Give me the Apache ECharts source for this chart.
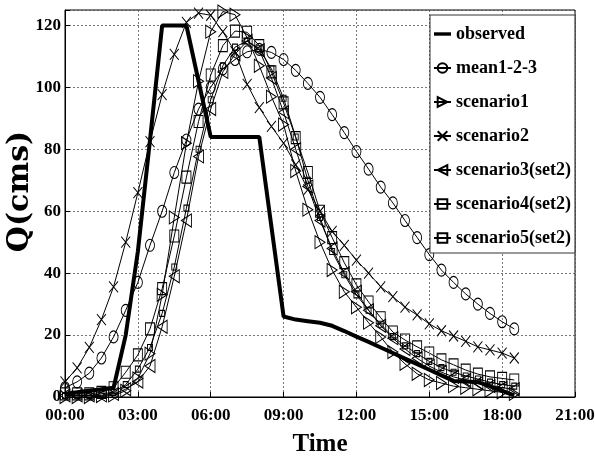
<!DOCTYPE html>
<html><head><meta charset="utf-8">
<script src="https://cdn.jsdelivr.net/npm/echarts@6/dist/echarts.min.js"></script>
<style>html,body{margin:0;padding:0;background:#fff}#c{width:595px;height:459px}</style>
</head><body><div id="c"></div>
<script>
// time in hours since start
var times = [0,0.5,1,1.5,2,2.5,3,3.5,4,4.5,5,5.5,6,6.5,7,7.5,8,8.5,9,9.5,10,10.5,11,11.5,12,12.5,13,13.5,14,14.5,15,15.5,16,16.5,17,17.5,18,18.5];
var observed = [1,1.5,2,2.5,3,20,47,83,120,120,120,102,84,84,84,84,84,55,26,25,24.5,24,23,21.3,19.5,17.8,16,14.2,12.4,10.6,8.8,7,5.2,5,4.8,3.5,2,0.5];
var mean123 = [3,4.9,7.7,12.6,19.4,28,37,49,60,72.5,83,93,100,106,109,111.5,112.3,111.3,109,105.5,101.3,96.8,91.2,85.4,79.3,73.6,67.8,62.7,57,51.5,46,41,37,33.3,30,27,24.3,22];
var scenario1 = [0,0,0,0.3,0.5,2,6,14,33,58,82,102,118,124.5,123.5,116,107,97,88,73,60.5,50,41,34,29,24,19.4,14.5,10.7,7.5,5.5,4.5,3.5,3,2.5,2,1.5,1];
var scenario2 = [4.9,9.4,16,25,35.6,50,66,82.5,97.7,110.7,121,124,123.3,118,111.5,101,93.5,87.4,82,75,67,60,53.5,49,44.2,40,35.6,32.4,29,26.5,23.6,21.4,19.7,18,16.2,15.2,14.2,12.6];
var scenario3 = [0.5,0.5,0.5,0.5,1,2.5,5,10,22.7,39,57,77.7,93,105,110.7,115,112,103,92,80,68,57,48,40,34,28,23,19,15.5,12.5,10,8,6.5,5.5,4.5,3.5,3,2.5];
var scenario4 = [1,1,1,1.5,3,8,13.6,22,35,52,71,89,104,113.5,118.2,117.8,113.5,105,95,83.8,72.5,60,51.5,43.4,36.2,30.7,25.6,21,18.4,16.2,14.2,12,10.4,8.7,7.4,6.5,6,5.5];
var scenario5 = [0.5,0.5,0.5,1,1.5,4,9,16,27,42,61,80,96,107,113,115,112.5,106,96.5,84,70,58,47,39.5,33,28,23.5,19.5,16.5,14,11.5,9.5,8,6.8,5.8,4.8,4,3.5];
var xTicks = [0,3,6,9,12,15,18,21];
var yTicks = [0,20,40,60,80,100,120];

function pairs(arr){ return times.map(function(t,i){ return [t, arr[i]]; }); }
var FONT = 'Liberation Serif';
var triR = 'path://M0,0L10,5L0,10Z';
var triL = 'path://M10,0L0,5L10,10Z';
var xMark = 'path://M0,0L10,10M10,0L0,10';
var thickLine = 'path://M0,0L20,0L20,4L0,4Z';

function sim(name, data, symbol, size){
  return {
    name: name, type: 'line', data: pairs(data), symbol: symbol, symbolSize: size,
    symbolKeepAspect: false, showAllSymbol: true,
    lineStyle: {color: '#000', width: 1},
    itemStyle: {color: 'rgba(255,255,255,0)', borderColor: '#000', borderWidth: 1},
    emphasis: {disabled: true}, animation: false, z: 3
  };
}

var chart = echarts.init(document.getElementById('c'), null, {renderer: 'canvas'});
chart.setOption({
  animation: false,
  backgroundColor: '#fff',
  grid: {left: 65, right: 20, top: 10, bottom: 62, containLabel: false, outerBoundsMode: 'none',
         show: true, borderColor: '#000', borderWidth: 1, backgroundColor: 'transparent'},
  xAxis: {
    type: 'value', min: 0, max: 21, interval: 3,
    name: 'Time', nameLocation: 'middle', nameGap: 35, nameMoveOverlap: false,
    nameTextStyle: {fontFamily: FONT, fontWeight: 'bold', fontSize: 25, color: '#000'},
    axisLine: {lineStyle: {color: '#000', width: 1}},
    axisTick: {inside: true, length: 5, lineStyle: {color: '#000'}},
    axisLabel: {fontFamily: FONT, fontWeight: 'bold', fontSize: 17, color: '#000', margin: 10,
      formatter: function(v){ return xTicks.indexOf(v) >= 0 ? ((v < 10 ? '0' : '') + v + ':00') : ''; }},
    splitLine: {show: true, lineStyle: {color: '#555', type: [2, 2], width: 0.8}}
  },
  yAxis: {
    type: 'value', min: 0, max: 125, interval: 20,
    name: 'Q(cms)', nameLocation: 'middle', nameGap: 30, nameRotate: 90, nameMoveOverlap: false,
    nameTextStyle: {fontFamily: 'DejaVu Serif', fontWeight: 'bold', fontSize: 30, color: '#000', padding: [0, 0, 0, 24]},
    axisLine: {show: true, lineStyle: {color: '#000', width: 1}},
    axisTick: {show: true, inside: true, length: 5, lineStyle: {color: '#000'}},
    axisLabel: {fontFamily: FONT, fontWeight: 'bold', fontSize: 17, color: '#000', margin: 4,
      formatter: function(v){ return yTicks.indexOf(v) >= 0 ? String(v) : ''; }},
    splitLine: {show: true, lineStyle: {color: '#555', type: [2, 2], width: 0.8}}
  },
  legend: {
    orient: 'vertical', left: 430, top: 15,
    padding: [10, 4, 6, 3], itemGap: 16, itemWidth: 17, itemHeight: 12,
    backgroundColor: '#fff', borderColor: '#333', borderWidth: 1,
    textStyle: {fontFamily: FONT, fontWeight: 'bold', fontSize: 18, color: '#000', lineHeight: 18},
    data: [{name: 'observed', icon: thickLine, itemStyle: {color: '#000', borderWidth: 0}},
           'mean1-2-3','scenario1','scenario2','scenario3(set2)','scenario4(set2)','scenario5(set2)'],
    z: 10
  },
  series: [
    {name: 'observed', type: 'line', data: pairs(observed), symbol: 'none',
     lineStyle: {color: '#000', width: 4}, itemStyle: {color: '#000'}, emphasis: {disabled: true}, z: 4},
    sim('mean1-2-3', mean123, 'circle', [9, 12]),
    sim('scenario1', scenario1, triR, [10, 13]),
    sim('scenario2', scenario2, xMark, [9, 11]),
    sim('scenario3(set2)', scenario3, triL, [10, 13]),
    sim('scenario4(set2)', scenario4, 'rect', [9, 12]),
    sim('scenario5(set2)', scenario5, 'rect', [5, 6])
  ]
});
</script></body></html>
